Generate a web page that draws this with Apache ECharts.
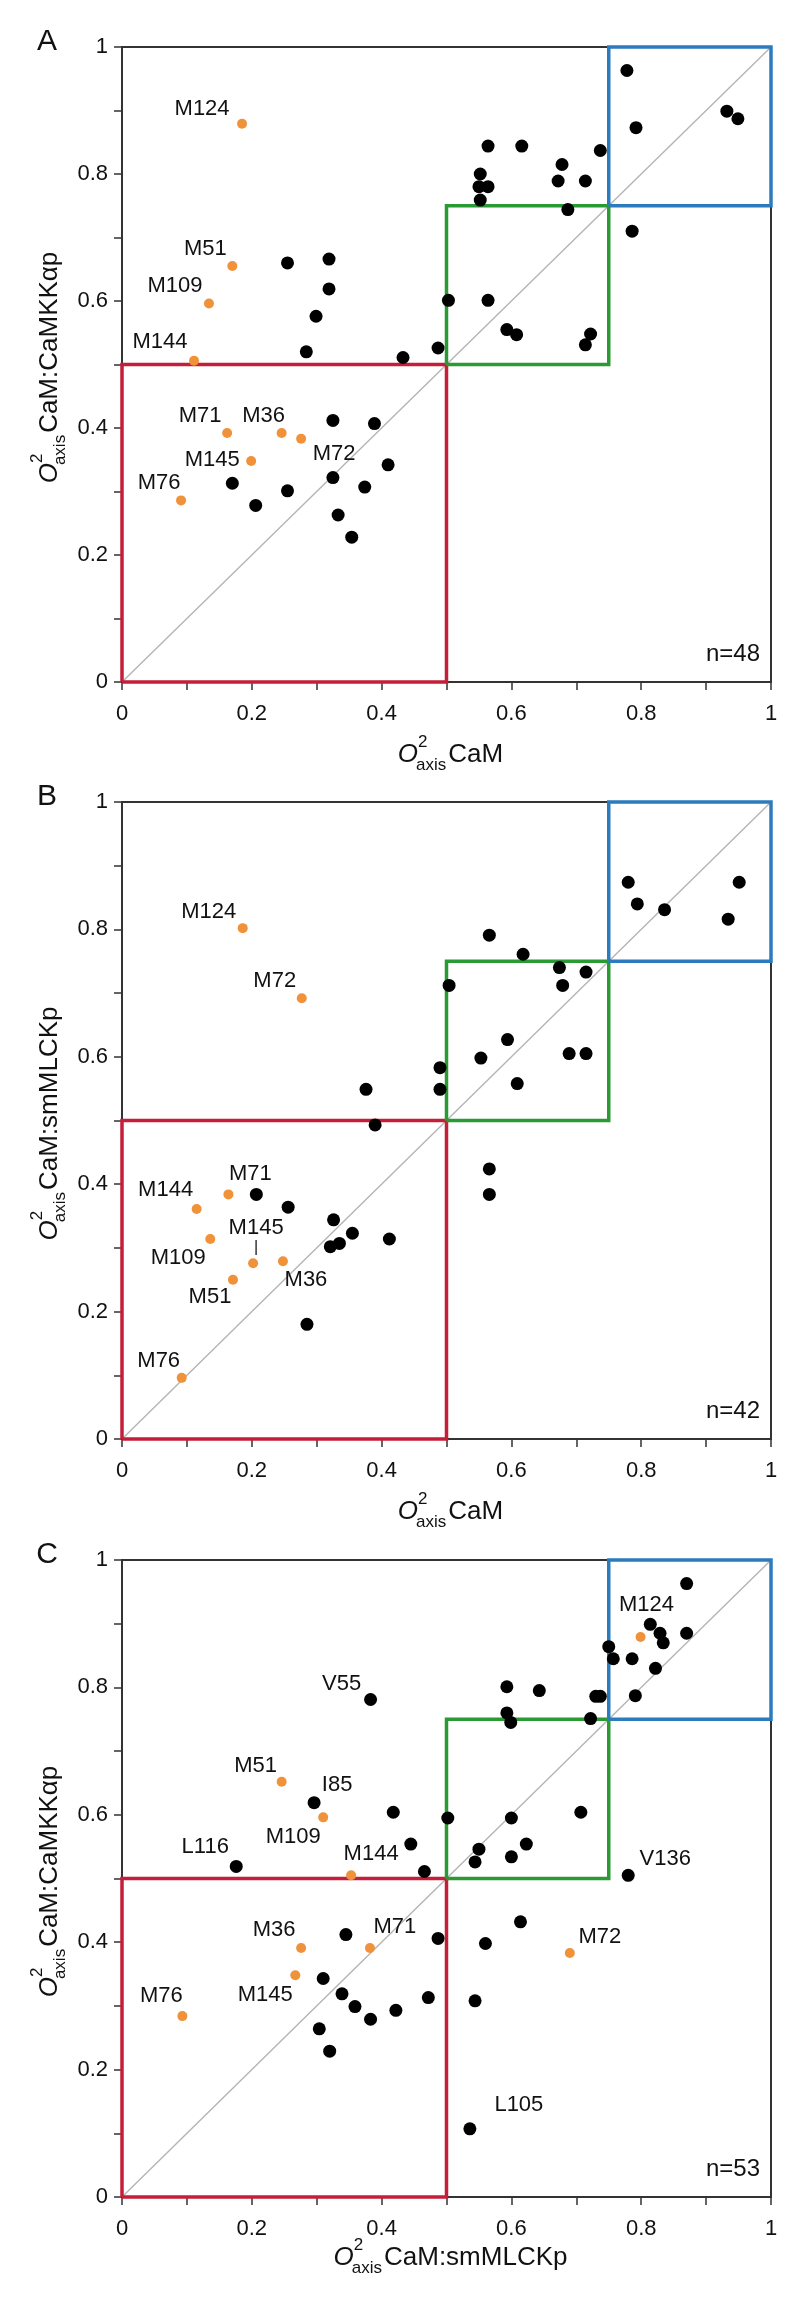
<!DOCTYPE html>
<html><head><meta charset="utf-8">
<script src="https://cdn.jsdelivr.net/npm/echarts/dist/echarts.min.js"></script>
<style>html,body{margin:0;padding:0;background:#fff}#chart{width:800px;height:2299px}</style>
</head><body><div id="chart"></div>
<script>
// ---------------- DATA ----------------
// Panel A : x = O2axis CaM, y = O2axis CaM:CaMKKap
const aBlackX = [0.778,0.792,0.932,0.949,0.564,0.616,0.737,0.678,0.552,0.550,0.564,0.552,0.672,0.714,0.687,0.786,0.255,0.319,0.319,0.299,0.503,0.564,0.593,0.608,0.722,0.714,0.284,0.433,0.487,0.325,0.389,0.410,0.170,0.325,0.374,0.255,0.206,0.333,0.354];
const aBlackY = [0.963,0.873,0.899,0.887,0.844,0.844,0.837,0.815,0.800,0.780,0.780,0.759,0.789,0.789,0.744,0.710,0.660,0.666,0.619,0.576,0.601,0.601,0.555,0.547,0.548,0.531,0.520,0.511,0.526,0.412,0.407,0.342,0.313,0.322,0.307,0.301,0.278,0.263,0.228];
const aMetNames = ['M124','M51','M109','M144','M71','M36','M72','M145','M76'];
const aMetX = [0.185,0.170,0.134,0.111,0.162,0.246,0.276,0.199,0.091];
const aMetY = [0.879,0.655,0.596,0.506,0.392,0.392,0.383,0.348,0.286];
const aCount = 'n=48';

// Panel B : x = O2axis CaM, y = O2axis CaM:smMLCKp
const bBlackX = [0.780,0.951,0.794,0.836,0.934,0.566,0.618,0.674,0.715,0.679,0.504,0.594,0.553,0.689,0.715,0.609,0.490,0.490,0.376,0.390,0.566,0.566,0.207,0.256,0.326,0.355,0.412,0.321,0.335,0.285];
const bBlackY = [0.874,0.874,0.840,0.831,0.816,0.791,0.761,0.740,0.733,0.712,0.712,0.627,0.598,0.605,0.605,0.558,0.583,0.549,0.549,0.493,0.424,0.384,0.384,0.364,0.344,0.323,0.314,0.302,0.307,0.180];
const bMetNames = ['M124','M72','M71','M144','M109','M145','M36','M51','M76'];
const bMetX = [0.186,0.277,0.164,0.115,0.136,0.202,0.248,0.171,0.092];
const bMetY = [0.802,0.692,0.384,0.361,0.314,0.276,0.279,0.250,0.096];
const bCount = 'n=42';

// Panel C : x = O2axis CaM:smMLCKp, y = O2axis CaM:CaMKKap
const cBlackX = [0.870,0.814,0.829,0.870,0.834,0.750,0.757,0.786,0.822,0.791,0.730,0.737,0.593,0.643,0.593,0.599,0.722,0.418,0.502,0.600,0.707,0.445,0.550,0.623,0.600,0.544,0.466,0.614,0.345,0.487,0.560,0.310,0.339,0.472,0.544,0.359,0.422,0.383,0.304,0.320];
const cBlackY = [0.963,0.899,0.885,0.885,0.870,0.864,0.845,0.845,0.830,0.787,0.786,0.786,0.801,0.795,0.760,0.745,0.751,0.604,0.595,0.595,0.604,0.554,0.546,0.554,0.534,0.526,0.511,0.432,0.412,0.406,0.398,0.343,0.319,0.313,0.308,0.299,0.293,0.279,0.264,0.229];
const cNamedNames = ['V55','I85','L116','V136','L105'];
const cNamedX = [0.383,0.296,0.176,0.780,0.536];
const cNamedY = [0.781,0.619,0.519,0.505,0.107];
const cMetNames = ['M124','M51','M109','M144','M36','M71','M145','M72','M76'];
const cMetX = [0.799,0.246,0.310,0.353,0.276,0.382,0.267,0.690,0.093];
const cMetY = [0.879,0.652,0.596,0.505,0.391,0.391,0.348,0.383,0.284];
const cCount = 'n=53';

// axis & region definitions
const axisMin = 0, axisMax = 1, tickStep = 0.1;
const boxRanges = [[0, 0.5], [0.5, 0.75], [0.75, 1]];
const panelLetters = ['A', 'B', 'C'];
const xTitles = ['CaM', 'CaM', 'CaM:smMLCKp'];
const yTitles = ['CaM:CaMKK\u03b1p', 'CaM:smMLCKp', 'CaM:CaMKK\u03b1p'];

// ---------------- STYLE / LAYOUT ----------------
const FONT = '"Liberation Sans", Arial, Helvetica, sans-serif';
const TXT = '#111111';
const AX = '#333333';
const boxColors = ['#c41e3a', '#2a9a35', '#2b7bbd'];
const ORANGE = '#f0923a';
const grids = [
  {left: 122, top: 47, width: 649, height: 635},
  {left: 122, top: 802, width: 649, height: 637},
  {left: 122, top: 1560, width: 649, height: 637}
];
const xTitleDrop = [73, 73, 61];
// label offsets (px from dot centre)
const labelOffsets = [
  {M124:[-40,-15], M51:[-27,-17], M109:[-34,-18], M144:[-34,-19], M71:[-27,-17], M36:[-18,-17], M72:[33,15], M145:[-39,-1], M76:[-22,-17]},
  {M124:[-34,-16], M72:[-27,-17], M71:[22,-20], M144:[-31,-19], M145:[3,-27], M109:[-32,19], M36:[23,19], M51:[-23,17], M76:[-23,-17]},
  {M124:[6,-32], V55:[-29,-16], M51:[-26,-16], I85:[23,-18], M109:[-30,20], L116:[-31,-19], M144:[20,-21], V136:[37,-16], M36:[-27,-18], M71:[25,-21], M145:[-30,20], M72:[30,-16], M76:[-21,-20], L105:[49,-24]}
];

const panels = [
  {black:[aBlackX,aBlackY], named:null, met:[aMetNames,aMetX,aMetY], count:aCount},
  {black:[bBlackX,bBlackY], named:null, met:[bMetNames,bMetX,bMetY], count:bCount},
  {black:[cBlackX,cBlackY], named:[cNamedNames,cNamedX,cNamedY], met:[cMetNames,cMetX,cMetY], count:cCount}
];

function boxPath(r){ const a=r[0], b=r[1]; return [[a,a],[b,a],[b,b],[a,b],[a,a]]; }
function tickFmt(v){ const k = Math.round(v*10); return k % 2 === 0 ? String(k/10) : ''; }

const labelBase = {show:true, position:'inside', color:TXT, fontSize:22, fontFamily:FONT, align:'center', verticalAlign:'middle', textBorderWidth:0};
function namedData(names, xs, ys, pi){
  return names.map((n,i)=>{
    const off = labelOffsets[pi][n] || [0,-18];
    const lab = Object.assign({}, labelBase, {offset: off});
    if (pi === 1 && n === 'M145') { lab.formatter = 'M145\n{t||}'; lab.rich = {t:{fontSize:16, color:TXT, lineHeight:16, fontFamily:FONT}}; lab.lineHeight = 22; }
    else lab.formatter = n;
    return {name:n, value:[xs[i], ys[i]], label:lab};
  });
}

const option = {animation:false, grid:[], xAxis:[], yAxis:[], series:[], graphic:[]};

panels.forEach((p, pi)=>{
  const g = grids[pi];
  option.grid.push(Object.assign({show:true, borderColor:AX, borderWidth:2, backgroundColor:'transparent'}, g));
  const common = {gridIndex:pi, type:'value', min:axisMin, max:axisMax, interval:tickStep,
    axisLine:{show:true, onZero:false, lineStyle:{color:AX, width:2}},
    axisTick:{show:true, inside:false, length:8, lineStyle:{color:AX, width:1.5}},
    splitLine:{show:false}};
  option.xAxis.push(Object.assign({}, common, {axisLabel:{formatter:tickFmt, fontSize:22, color:TXT, fontFamily:FONT, margin:21}}));
  option.yAxis.push(Object.assign({}, common, {axisLabel:{formatter:tickFmt, fontSize:22, color:TXT, fontFamily:FONT, margin:14}}));
  // diagonal
  option.series.push({type:'line', xAxisIndex:pi, yAxisIndex:pi, data:[[axisMin,axisMin],[axisMax,axisMax]], symbol:'none', silent:true, clip:false,
    lineStyle:{color:'#b4b4b4', width:1.4}, z:2});
  boxRanges.forEach((r, bi)=>{
    option.series.push({type:'line', xAxisIndex:pi, yAxisIndex:pi, data:boxPath(r), symbol:'none', silent:true, clip:false,
      lineStyle:{color:boxColors[bi], width:3.5, join:'miter'}, z:3});
  });
  option.series.push({type:'scatter', xAxisIndex:pi, yAxisIndex:pi, symbolSize:13, itemStyle:{color:'#000', opacity:1},
    data:p.black[0].map((x,i)=>[x, p.black[1][i]]), z:5});
  if (p.named) {
    option.series.push({type:'scatter', xAxisIndex:pi, yAxisIndex:pi, symbolSize:13, itemStyle:{color:'#000', opacity:1},
      data:namedData(p.named[0], p.named[1], p.named[2], pi), z:5});
  }
  option.series.push({type:'scatter', xAxisIndex:pi, yAxisIndex:pi, symbolSize:10, itemStyle:{color:ORANGE, opacity:1},
    data:namedData(p.met[0], p.met[1], p.met[2], pi), z:6});
});

// ---- text decorations (panel letters, counts, axis titles) ----
const ctx = document.createElement('canvas').getContext('2d');
function tw(text, font){ ctx.font = font; return ctx.measureText(text).width; }
const MAIN = 26, SMALL = 17;
function txt(x, y, text, font, align, valign){
  return {type:'text', x:x, y:y, style:{text:text, font:font, fill:TXT, align:align||'left', verticalAlign:valign||'middle', textAlign:align||'left', textVerticalAlign:valign||'middle'}};
}
function axisTitle(rest, cx, cy, vertical){
  const fO = 'italic ' + MAIN + 'px ' + FONT, fS = SMALL + 'px ' + FONT, fM = MAIN + 'px ' + FONT;
  const wO = tw('O', fO), wA = tw('axis', fS), w2 = tw('2', fS), wM = tw(rest, fM);
  const subX = wO - 2;
  const mainX = subX + Math.max(wA, w2) + 2;
  const total = mainX + wM;
  const x0 = -total / 2;
  return {type:'group', x:cx, y:cy, rotation: vertical ? Math.PI/2 : 0, children:[
    txt(x0, 0, 'O', fO),
    txt(x0 + subX + 2, -13, '2', fS),
    txt(x0 + subX, 10, 'axis', fS),
    txt(x0 + mainX, 0, rest, fM)
  ]};
}

grids.forEach((g, pi)=>{
  const bottom = g.top + g.height;
  option.graphic.push(txt(47, g.top - 5, panelLetters[pi], '30px ' + FONT, 'center', 'middle'));
  option.graphic.push(txt(g.left + g.width - 11, bottom - 28, panels[pi].count, '24px ' + FONT, 'right', 'middle'));
  option.graphic.push(axisTitle(xTitles[pi], g.left + g.width/2 + 4, bottom + xTitleDrop[pi], false));
  option.graphic.push(axisTitle(yTitles[pi], 50, g.top + g.height/2 + 3, true));
});

const chart = echarts.init(document.getElementById('chart'), null, {renderer:'canvas'});
chart.setOption(option);
</script></body></html>
